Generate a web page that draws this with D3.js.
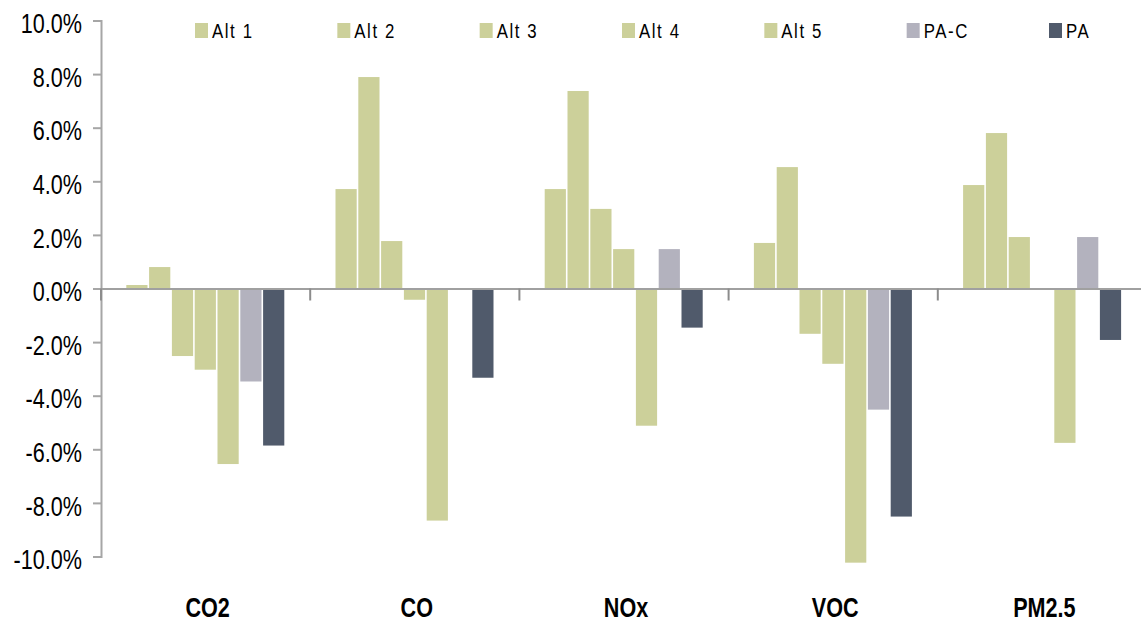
<!DOCTYPE html>
<html>
<head>
<meta charset="utf-8">
<script src="https://cdn.jsdelivr.net/npm/d3@7"></script>
<style>
  html, body { margin: 0; padding: 0; background: #ffffff; }
  svg { display: block; }
  text { font-family: "Liberation Sans", Arial, sans-serif; fill: #000; }
</style>
</head>
<body>
<svg id="chart" width="1141" height="622"></svg>
<script>
const categories = ["CO2", "CO", "NOx", "VOC", "PM2.5"];
const seriesNames = ["Alt 1", "Alt 2", "Alt 3", "Alt 4", "Alt 5", "PA-C", "PA"];
const seriesColors = ["#ccd09a", "#ccd09a", "#ccd09a", "#ccd09a", "#ccd09a", "#b3b2be", "#505a6b"];
// values in percent, one array per series, ordered like categories
const alt1 = [0.13, 3.71, 3.71, 1.70, 3.86];
const alt2 = [0.80, 7.89, 7.37, 4.53, 5.80];
const alt3 = [-2.52, 1.77, 2.97, -1.69, 1.92];
const alt4 = [-3.03, -0.42, 1.47, -2.81, 0];
const alt5 = [-6.55, -8.66, -5.12, -10.23, -5.76];
const paC  = [-3.47, 0, 1.47, -4.52, 1.92];
const pa   = [-5.86, -3.33, -1.46, -8.51, -1.92];
const yTicks = [-10, -8, -6, -4, -2, 0, 2, 4, 6, 8, 10];

const seriesValues = [alt1, alt2, alt3, alt4, alt5, paC, pa];
const rows = categories.map((c, i) => ({
  cat: c,
  vals: seriesNames.map((s, j) => ({ s, j, v: seriesValues[j][i] }))
}));

const SX = 0.8; // horizontal condensing of text (narrow font look)

const svg = d3.select("#chart");
const x0 = d3.scaleBand().domain(categories).range([101, 1147]).paddingInner(0).paddingOuter(0);
const bw = x0.bandwidth();
const x1 = d3.scaleBand().domain(seriesNames).range([24.8, bw - 24.8]).padding(0);
const y = d3.scaleLinear().domain([-10, 10]).range([556.5, 20.5]);
const color = d3.scaleOrdinal().domain(seriesNames).range(seriesColors);

// bars
const g = svg.append("g");
g.selectAll("g.cat").data(rows).join("g")
  .attr("class", "cat")
  .attr("transform", d => `translate(${x0(d.cat)},0)`)
  .selectAll("rect").data(d => d.vals).join("rect")
  .attr("x", d => x1(d.s) + 0.5)
  .attr("width", x1.bandwidth() - 1.6)
  .attr("y", d => y(Math.max(0, d.v)))
  .attr("height", d => Math.abs(y(d.v) - y(0)))
  .attr("fill", d => color(d.s));

// y axis
const yAxis = d3.axisLeft(y).tickValues(yTicks).tickSize(8).tickPadding(11)
  .tickFormat(d => d.toFixed(1) + "%");
const ya = svg.append("g").attr("transform", "translate(101,0)").call(yAxis);
ya.select(".domain").attr("stroke", "#a6a6a6").attr("stroke-width", 2);
ya.selectAll(".tick line").attr("stroke", "#a6a6a6").attr("stroke-width", 2);
ya.selectAll(".tick text")
  .attr("font-size", 27)
  .attr("font-family", "'Liberation Sans', Arial, sans-serif")
  .attr("x", -19 / SX)
  .attr("transform", `scale(${SX},1)`)
  .attr("dy", "0.45em").attr("fill", "#000");

// zero / category line
svg.append("line")
  .attr("x1", 101).attr("x2", 1141)
  .attr("y1", y(0) + 0.5).attr("y2", y(0) + 0.5)
  .attr("stroke", "#a0a0a0").attr("stroke-width", 2);

// category boundary ticks
const bounds = categories.map(c => x0(c)).concat([x0.range()[1]]);
svg.append("g").selectAll("line").data(bounds).join("line")
  .attr("x1", d => d).attr("x2", d => d)
  .attr("y1", y(0)).attr("y2", y(0) + 12)
  .attr("stroke", "#8c8c8c").attr("stroke-width", 2);

// category labels
const xAxis = d3.axisBottom(x0).tickSize(0).tickPadding(0);
const xa = svg.append("g").attr("transform", "translate(2,0)").call(xAxis);
xa.select(".domain").remove();
xa.selectAll(".tick text")
  .attr("y", 617).attr("dy", null)
  .attr("transform", `scale(${SX},1)`)
  .attr("font-size", 27).attr("font-weight", "bold")
  .attr("font-family", "'Liberation Sans', Arial, sans-serif")
  .attr("fill", "#000");

// legend
const legendX = d3.scalePoint().domain(seriesNames).range([195, 1049]);
const lg = svg.append("g").selectAll("g").data(seriesNames).join("g")
  .attr("transform", d => `translate(${legendX(d)},0)`);
lg.append("rect").attr("x", 0).attr("y", 23).attr("width", 13).attr("height", 15)
  .attr("fill", d => color(d));
lg.append("text").attr("x", 17 / SX).attr("y", 38.5)
  .attr("transform", `scale(${SX},1)`)
  .attr("font-size", 21).attr("letter-spacing", 2)
  .text(d => d);
</script>
</body>
</html>
